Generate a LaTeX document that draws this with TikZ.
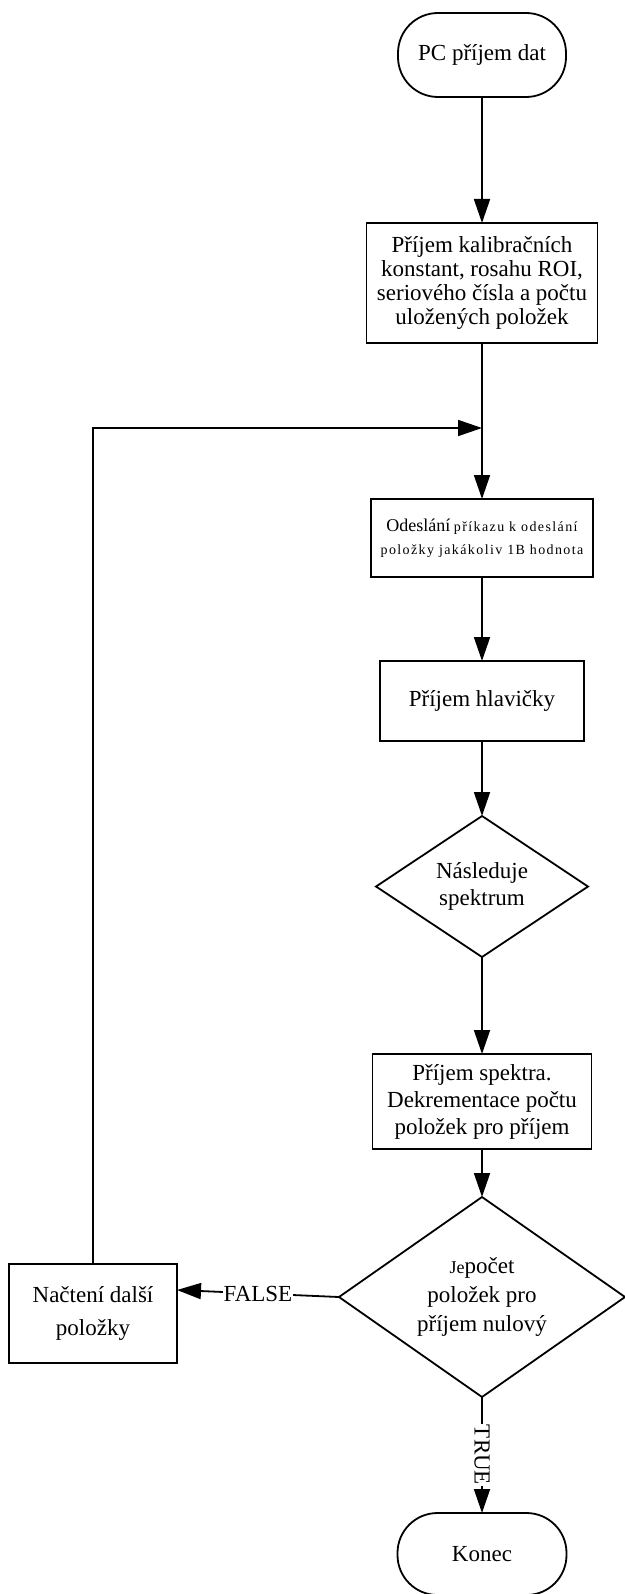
\documentclass[tikz,border=0pt]{standalone}
\usepackage{fontspec}
\setmainfont{Liberation Serif}
\usetikzlibrary{shapes.geometric,arrows.meta}
\begin{document}
\begin{tikzpicture}[x=1pt,y=-1pt,
  every node/.style={font=\fontsize{23}{24}\selectfont, align=center, inner sep=0pt, outer sep=0pt},
  proc/.style={draw, line width=1.8pt, rectangle},
  term/.style={draw, line width=1.8pt, rectangle, rounded corners=40pt},
  cond/.style={draw, line width=1.8pt, diamond},
  flow/.style={line width=1.8pt, -{Triangle[length=24pt,width=16pt]}},
  lbl/.style={fill=white, inner sep=1pt}]
\useasboundingbox (0,0) rectangle (624,1594);

% process nodes along the main column
\node[term, minimum width=168pt, minimum height=84pt] (start) at (482,55) {PC příjem dat};
\node[proc, minimum width=231pt, minimum height=120pt] (recv) at (482,283)
  {Příjem kalibračních\\konstant, rosahu ROI,\\seriového čísla a počtu\\uložených položek};
\node[proc, minimum width=222pt, minimum height=78pt, font=\fontsize{14}{23}\selectfont] (send) at (482,538)
  {{\fontsize{18}{23}\selectfont Odeslání} {\addfontfeatures{LetterSpace=10}příkazu k odeslání}\\
   {\addfontfeatures{LetterSpace=10}položky jakákoliv 1B hodnota}};
\node[proc, minimum width=204pt, minimum height=80pt] (head) at (482,701) {Příjem hlavičky};
\node[cond, minimum width=212pt, minimum height=141pt, aspect=1.5, font=\fontsize{23}{27}\selectfont] (spec) at (482,886.5)
  {Následuje\\spektrum};
\node[proc, minimum width=219pt, minimum height=95pt, font=\fontsize{23}{27}\selectfont] (spectra) at (482,1101.5)
  {Příjem spektra.\\Dekrementace počtu\\položek pro příjem};
\node[cond, minimum width=286pt, minimum height=200pt, aspect=1.43, font=\fontsize{23}{29}\selectfont] (zero) at (482,1297)
  {{\fontsize{18}{29}\selectfont Je}počet\\položek pro\\příjem nulový};
\node[proc, minimum width=168pt, minimum height=99pt, font=\fontsize{23}{33}\selectfont] (next) at (93,1313.5)
  {Načtení další\\položky};
\node[term, minimum width=169pt, minimum height=82pt] (konec) at (482,1554) {Konec};
\coordinate (merge) at (482,428);

% connectors
\draw[flow] (start) -- (recv);
\draw[flow] (recv) -- (send);
\draw[flow] (next.north) |- (merge);
\draw[flow] (send) -- (head);
\draw[flow] (head) -- (spec);
\draw[flow] (spec) -- (spectra);
\draw[flow] (spectra) -- (zero);
\draw[flow] (zero.west) -- ([yshift=23.5pt]next.east) node[lbl, midway] {FALSE};
\draw[flow] (zero) -- (konec) node[lbl, midway, rotate=-90] {TRUE};
\end{tikzpicture}
\end{document}
